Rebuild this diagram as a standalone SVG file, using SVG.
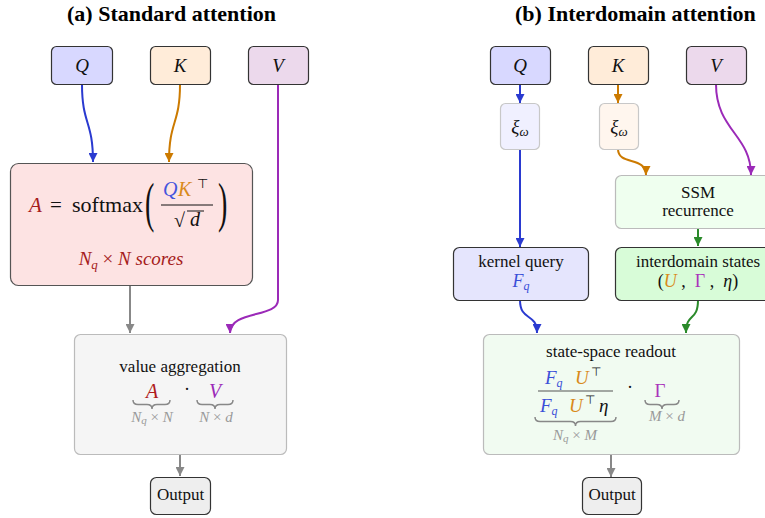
<svg xmlns="http://www.w3.org/2000/svg" width="765" height="518" viewBox="0 0 765 518" font-family="'Liberation Serif', 'Times New Roman', 'DejaVu Serif', serif">
<defs>
<style>
text{font-family:'Liberation Serif','Times New Roman','DejaVu Serif',serif}
.title{font-weight:bold;font-size:22px}
.m{font-style:italic}
.lab{font-size:17px}
.sym{font-family:'DejaVu Sans',sans-serif}
.dark{stroke:#333;stroke-width:1.2}
.conn{fill:none;stroke-width:2}
.brace{fill:none;stroke:#888;stroke-width:1.5}
.gl{font-style:italic;font-size:15px}
</style>
<marker id="ab" viewBox="0 0 10 10" refX="10" refY="5" markerWidth="9" markerHeight="9" markerUnits="userSpaceOnUse" orient="auto"><path d="M0,0 L10,5 L0,10 z" fill="#2a3ad0"/></marker>
<marker id="ao" viewBox="0 0 10 10" refX="10" refY="5" markerWidth="9" markerHeight="9" markerUnits="userSpaceOnUse" orient="auto"><path d="M0,0 L10,5 L0,10 z" fill="#cc7a00"/></marker>
<marker id="ap" viewBox="0 0 10 10" refX="10" refY="5" markerWidth="9" markerHeight="9" markerUnits="userSpaceOnUse" orient="auto"><path d="M0,0 L10,5 L0,10 z" fill="#9b2ab8"/></marker>
<marker id="ag" viewBox="0 0 10 10" refX="10" refY="5" markerWidth="9" markerHeight="9" markerUnits="userSpaceOnUse" orient="auto"><path d="M0,0 L10,5 L0,10 z" fill="#2a8a2a"/></marker>
<marker id="ay" viewBox="0 0 10 10" refX="10" refY="5" markerWidth="9" markerHeight="9" markerUnits="userSpaceOnUse" orient="auto"><path d="M0,0 L10,5 L0,10 z" fill="#888"/></marker>
</defs>
<rect width="765" height="518" fill="#fff"/>

<text class="title" x="67" y="21">(a) Standard attention</text>
<text class="title" x="515" y="21">(b) Interdomain attention</text>

<g id="connectors">
<path class="conn" stroke="#2a3ad0" d="M82,84 C82,125 93,120 93,162" marker-end="url(#ab)"/>
<path class="conn" stroke="#cc7a00" d="M180,84 C180,125 169,120 169,162" marker-end="url(#ao)"/>
<path class="conn" stroke="#9b2ab8" d="M278,84 L278,300 C278,318 230,310 230,333" marker-end="url(#ap)"/>
<path class="conn" stroke="#888" d="M130,285 L130,333" marker-end="url(#ay)"/>
<path class="conn" stroke="#888" d="M180,454 L180,476" marker-end="url(#ay)"/>
<path class="conn" stroke="#2a3ad0" d="M520,84 L520,103" marker-end="url(#ab)"/>
<path class="conn" stroke="#cc7a00" d="M618,84 L618,103" marker-end="url(#ao)"/>
<path class="conn" stroke="#2a3ad0" d="M520,149 L520,247" marker-end="url(#ab)"/>
<path class="conn" stroke="#cc7a00" d="M618,149 C618,166 646,156 646,175" marker-end="url(#ao)"/>
<path class="conn" stroke="#9b2ab8" d="M716,84 C716,130 751,135 751,175" marker-end="url(#ap)"/>
<path class="conn" stroke="#2a8a2a" d="M698,228 L698,246" marker-end="url(#ag)"/>
<path class="conn" stroke="#2a3ad0" d="M520,300 C520,322 537,312 537,333" marker-end="url(#ab)"/>
<path class="conn" stroke="#2a8a2a" d="M698,300 C698,322 686,312 686,333" marker-end="url(#ag)"/>
<path class="conn" stroke="#888" d="M611,455 L611,477" marker-end="url(#ay)"/>
</g>

<g id="qa"><rect class="dark" x="51.5" y="46.5" width="61" height="38" rx="5" fill="#d8d8ff"/><text class="m" x="82" y="72" font-size="19" text-anchor="middle" fill="#111">Q</text></g>
<g id="ka"><rect class="dark" x="150.5" y="46.5" width="60" height="38" rx="5" fill="#ffecd9"/><text class="m" x="180" y="72" font-size="19" text-anchor="middle" fill="#111">K</text></g>
<g id="va"><rect class="dark" x="248.5" y="46.5" width="60" height="38" rx="5" fill="#ecd9ec"/><text class="m" x="278" y="72" font-size="19" text-anchor="middle" fill="#111">V</text></g>

<g id="scores">
<rect x="10.5" y="163.5" width="242" height="122" rx="8" fill="#fde3e3" stroke="#555" stroke-width="1.2"/>
<text class="m" x="29" y="212" font-size="21" fill="#a51c1c">A</text>
<text x="50" y="212" font-size="21" fill="#111">=</text>
<text x="72" y="212" font-size="21" fill="#111" textLength="71" lengthAdjust="spacingAndGlyphs">softmax</text>
<text font-size="28" fill="#111" transform="translate(145,221) scale(1,1.95)">(</text>
<text class="m" x="163" y="196" font-size="20" fill="#4455dd">Q</text>
<text class="m" x="178" y="196" font-size="20" fill="#d98a1a">K</text>
<text class="sym" x="197" y="188" font-size="13" fill="#111">⊤</text>
<line x1="161" y1="205" x2="213" y2="205" stroke="#111" stroke-width="1"/>
<text x="174" y="227" font-size="20" fill="#111">√</text>
<line x1="187" y1="211" x2="204" y2="211" stroke="#111" stroke-width="1"/>
<text class="m" x="190" y="226" font-size="20" fill="#111">d</text>
<text font-size="28" fill="#111" transform="translate(218,221) scale(1,1.95)">)</text>
<text class="m" x="131" y="265" font-size="19" text-anchor="middle" fill="#a51c1c">N<tspan font-size="13" dy="4">q</tspan><tspan font-style="normal" dy="-4"> × </tspan>N scores</text>
</g>

<g id="aggregate">
<rect x="74.5" y="334.5" width="212" height="120" rx="6" fill="#f5f5f5" stroke="#bbb" stroke-width="1.2"/>
<text class="lab" x="180" y="372" text-anchor="middle" fill="#111">value aggregation</text>
<text class="m" x="152" y="398" font-size="20" text-anchor="middle" fill="#b01c1c">A</text>
<text x="187" y="395" font-size="18" text-anchor="middle" fill="#111">·</text>
<text class="m" x="215" y="398" font-size="20" text-anchor="middle" fill="#9b2ab8">V</text>
<path class="brace" d="M133,400 q0,4.5 5,4.5 L147,404.5 q5,0 5,4.5 q0,-4.5 5,-4.5 L165,404.5 q5,0 5,-4.5"/>
<path class="brace" d="M197,400 q0,4.5 5,4.5 L210,404.5 q5,0 5,4.5 q0,-4.5 5,-4.5 L228,404.5 q5,0 5,-4.5"/>
<text class="gl" x="152" y="422" text-anchor="middle" fill="#999">N<tspan font-size="11" dy="2">q</tspan><tspan font-style="normal" dy="-2"> × </tspan>N</text>
<text class="gl" x="216" y="422" text-anchor="middle" fill="#999">N<tspan font-style="normal"> × </tspan>d</text>
</g>

<g id="outa"><rect class="dark" x="150.5" y="477.5" width="60" height="37" rx="6" fill="#eeeeee"/><text class="lab" x="180.5" y="500" text-anchor="middle" fill="#111">Output</text></g>

<g id="qb"><rect class="dark" x="490.5" y="46.5" width="60" height="38" rx="5" fill="#d8d8ff"/><text class="m" x="520" y="72" font-size="19" text-anchor="middle" fill="#111">Q</text></g>
<g id="kb"><rect class="dark" x="588.5" y="46.5" width="60" height="38" rx="5" fill="#ffecd9"/><text class="m" x="618" y="72" font-size="19" text-anchor="middle" fill="#111">K</text></g>
<g id="vb"><rect class="dark" x="686.5" y="46.5" width="60" height="38" rx="5" fill="#ecd9ec"/><text class="m" x="716" y="72" font-size="19" text-anchor="middle" fill="#111">V</text></g>

<g id="xiq"><rect x="500.5" y="103.5" width="39" height="46" rx="5" fill="#f0f0ff" stroke="#c8c8c8" stroke-width="1.2"/><text class="m" x="520" y="133" font-size="19" text-anchor="middle" fill="#111">ξ<tspan font-size="13" dy="3">ω</tspan></text></g>
<g id="xik"><rect x="599.5" y="103.5" width="39" height="46" rx="5" fill="#fff6ee" stroke="#c8c8c8" stroke-width="1.2"/><text class="m" x="619" y="133" font-size="19" text-anchor="middle" fill="#111">ξ<tspan font-size="13" dy="3">ω</tspan></text></g>

<g id="ssm"><rect x="615.5" y="175.5" width="160" height="53" rx="6" fill="#efffef" stroke="#bbb" stroke-width="1.2"/>
<text class="lab" x="698" y="198" text-anchor="middle" fill="#111">SSM</text>
<text class="lab" x="698" y="216" text-anchor="middle" fill="#111">recurrence</text></g>

<g id="kq"><rect class="dark" x="453.5" y="247.5" width="135" height="53" rx="6" fill="#e5e5fd"/>
<text class="lab" x="521" y="267" text-anchor="middle" fill="#111">kernel query</text>
<text class="m" x="521" y="287" font-size="18" text-anchor="middle" fill="#3a4fd8">F<tspan font-size="12" dy="3">q</tspan></text></g>

<g id="states"><rect class="dark" x="615.5" y="247.5" width="160" height="53" rx="6" fill="#d8fcd8"/>
<text class="lab" x="698" y="267" text-anchor="middle" fill="#111">interdomain states</text>
<text x="698" y="287" font-size="18" text-anchor="middle" fill="#111" xml:space="preserve">(<tspan class="m" fill="#d98a1a">U</tspan> ,  <tspan fill="#aa33bb">Γ</tspan> ,  <tspan class="m">η</tspan>)</text></g>

<g id="readout"><rect x="483.5" y="334.5" width="256" height="120" rx="6" fill="#f1fbf1" stroke="#bbb" stroke-width="1.2"/>
<text class="lab" x="611" y="357" text-anchor="middle" fill="#111">state-space readout</text>
<text class="m" x="545" y="384" font-size="19" fill="#3a4fd8">F<tspan font-size="12" dy="3">q</tspan></text>
<text class="m" x="575" y="384" font-size="19" fill="#d98a1a">U</text>
<text class="sym" x="591" y="376" font-size="12" fill="#111">⊤</text>
<line x1="538" y1="391" x2="613" y2="391" stroke="#555" stroke-width="1.2"/>
<text class="m" x="540" y="412" font-size="19" fill="#3a4fd8">F<tspan font-size="12" dy="3">q</tspan></text>
<text class="m" x="569" y="412" font-size="19" fill="#d98a1a">U</text>
<text class="sym" x="585" y="404" font-size="12" fill="#111">⊤</text>
<text class="m" x="599" y="412" font-size="19" fill="#111">η</text>
<path class="brace" d="M535,417 q0,4.5 5,4.5 L570.5,421.5 q5,0 5,4.5 q0,-4.5 5,-4.5 L611,421.5 q5,0 5,-4.5"/>
<text class="gl" x="575" y="440" text-anchor="middle" fill="#999">N<tspan font-size="11" dy="2">q</tspan><tspan font-style="normal" dy="-2"> × </tspan>M</text>
<text x="630" y="393" font-size="18" text-anchor="middle" fill="#111">·</text>
<text x="660" y="397" font-size="19" text-anchor="middle" fill="#aa33bb">Γ</text>
<path class="brace" d="M645,400 q0,4.5 5,4.5 L657,404.5 q5,0 5,4.5 q0,-4.5 5,-4.5 L674,404.5 q5,0 5,-4.5"/>
<text class="gl" x="667" y="421" text-anchor="middle" fill="#999">M<tspan font-style="normal"> × </tspan>d</text>
</g>

<g id="outb"><rect class="dark" x="582.5" y="477.5" width="59" height="37" rx="6" fill="#eeeeee"/><text class="lab" x="612" y="500" text-anchor="middle" fill="#111">Output</text></g>
</svg>
